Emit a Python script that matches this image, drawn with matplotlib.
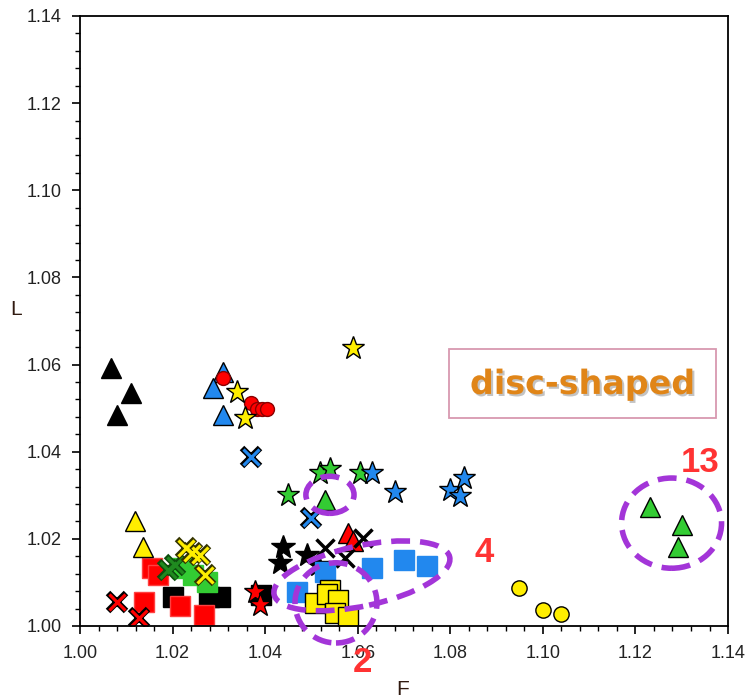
import numpy as np
import matplotlib
matplotlib.use("Agg")
import matplotlib.pyplot as plt
from matplotlib.patches import Ellipse, Rectangle
import matplotlib.patheffects as pe
from matplotlib.ticker import MultipleLocator, FormatStrFormatter

plt.rcParams['font.family'] = ['Liberation Sans', 'DejaVu Sans']

# ---- data ----
black_tri_x = [1.0068, 1.0110, 1.0079]
black_tri_y = [1.0592, 1.0534, 1.0484]
blue_tri_x = [1.0308, 1.0288, 1.0310]
blue_tri_y = [1.0584, 1.0546, 1.0484]
red_circ_x = [1.0308, 1.0369, 1.0382, 1.0393, 1.0403]
red_circ_y = [1.0570, 1.0511, 1.0498, 1.0498, 1.0498]
yellow_star_x = [1.0339, 1.0356, 1.0590]
yellow_star_y = [1.0538, 1.0477, 1.0637]
blue_x_x = [1.0369, 1.0500]
blue_x_y = [1.0387, 1.0247]
green_star_x = [1.0450, 1.0518, 1.0540, 1.0605]
green_star_y = [1.0300, 1.0352, 1.0360, 1.0350]
blue_star_x = [1.0630, 1.0680, 1.0799, 1.0820, 1.0830]
blue_star_y = [1.0350, 1.0308, 1.0312, 1.0298, 1.0339]
green_tri_x = [1.0529, 1.1231, 1.1300, 1.1292]
green_tri_y = [1.0289, 1.0274, 1.0232, 1.0182]
red_tri_x = [1.0580, 1.0590]
red_tri_y = [1.0213, 1.0194]
black_x_x = [1.0529, 1.0572, 1.0612]
black_x_y = [1.0178, 1.0155, 1.0201]
black_star_x = [1.0439, 1.0432, 1.0490, 1.0515]
black_star_y = [1.0182, 1.0144, 1.0163, 1.0140]
blue_sq_x = [1.0468, 1.0529, 1.0630, 1.0700, 1.0749]
blue_sq_y = [1.0079, 1.0125, 1.0132, 1.0151, 1.0138]
yellow_sq_x = [1.0508, 1.0540, 1.0533, 1.0558, 1.0551, 1.0580]
yellow_sq_y = [1.0052, 1.0083, 1.0073, 1.0060, 1.0029, 1.0021]
red_star_x = [1.0378, 1.0389]
red_star_y = [1.0079, 1.0048]
yellow_circ_x = [1.0949, 1.1000, 1.1039]
yellow_circ_y = [1.0088, 1.0037, 1.0028]
yellow_tri_x = [1.0119, 1.0137]
yellow_tri_y = [1.0242, 1.0181]
red_sq_x = [1.0155, 1.0169, 1.0138, 1.0216, 1.0268]
red_sq_y = [1.0132, 1.0117, 1.0056, 1.0046, 1.0025]
green_x_x = [1.0191, 1.0205]
green_x_y = [1.0129, 1.0140]
green_sq_x = [1.0220, 1.0245, 1.0274]
green_sq_y = [1.0133, 1.0117, 1.0102]
yellow_x_x = [1.0230, 1.0241, 1.0259, 1.0270]
yellow_x_y = [1.0178, 1.0167, 1.0163, 1.0117]
black_sq_x = [1.0200, 1.0279, 1.0302, 1.0392]
black_sq_y = [1.0067, 1.0067, 1.0067, 1.0071]
red_x_x = [1.0079, 1.0128]
red_x_y = [1.0056, 1.0018]

# circled groups: (x, y, width, height, angle)
groups = [
    (1.1278, 1.0236, 0.0216, 0.0207, 0),
    (1.0609, 1.0115, 0.0389, 0.0138, 13),
    (1.0553, 1.0053, 0.0177, 0.0184, 0),
    (1.0540, 1.0301, 0.0104, 0.0085, 0),
]
group_labels = ['13', '4', '2']
group_label_x = [1.1339, 1.0873, 1.0611]
group_label_y = [1.0376, 1.0168, 0.9917]

YEL = '#ffee00'
RED = '#ff0000'
BLU = '#2288ee'
GRN = '#33cc33'
DGR = '#1f8a1f'

fig = plt.figure(figsize=(7.47, 6.98), dpi=100)
ax = fig.add_axes([0.1071, 0.1032, 0.8675, 0.8739])


def pts(x, y, marker, face, ms, edge='black', mew=1.0):
    ax.plot(x, y, ls='none', marker=marker, ms=ms, mfc=face, mec=edge, mew=mew)


def cross(x, y, face, edge='black', ms=13):
    ax.plot(x, y, ls='none', marker='x', ms=ms, mew=4.6, color=edge)
    ax.plot(x, y, ls='none', marker='x', ms=ms - 1.5, mew=2.3, color=face)


pts(blue_tri_x, blue_tri_y, '^', BLU, 14)
pts(black_tri_x, black_tri_y, '^', 'black', 14)
pts(red_circ_x, red_circ_y, 'o', RED, 10, edge='#8a0000')
pts(yellow_star_x, yellow_star_y, '*', YEL, 17)
pts(black_sq_x, black_sq_y, 's', 'black', 14)
pts(red_sq_x, red_sq_y, 's', RED, 14, edge='#ff4040')
pts(green_sq_x, green_sq_y, 's', GRN, 14, edge=GRN)
cross(green_x_x, green_x_y, DGR, edge='#0d4d0d')
cross(yellow_x_x, yellow_x_y, YEL, edge='#333300')
cross(red_x_x, red_x_y, RED)
pts(yellow_tri_x, yellow_tri_y, '^', YEL, 14)
cross(blue_x_x, blue_x_y, BLU)
pts(green_star_x, green_star_y, '*', GRN, 17)
pts(blue_star_x, blue_star_y, '*', BLU, 17)
pts(green_tri_x, green_tri_y, '^', GRN, 14)
pts(red_tri_x, red_tri_y, '^', RED, 14)
pts(black_star_x, black_star_y, '*', 'black', 18)
ax.plot(black_x_x, black_x_y, ls='none', marker='x', ms=13, mew=2.5, color='black')
pts(blue_sq_x, blue_sq_y, 's', BLU, 14, edge=BLU)
pts(yellow_sq_x, yellow_sq_y, 's', YEL, 14)
pts(red_star_x, red_star_y, '*', RED, 17)
pts(yellow_circ_x, yellow_circ_y, 'o', YEL, 11)

for gx, gy, gw, gh, ga in groups:
    ax.add_patch(Ellipse((gx, gy), gw, gh, angle=ga, fill=False, ec='#a335d8',
                         lw=4, ls=(0, (3.4, 1.8)), clip_on=False, zorder=5))

for t, tx, ty in zip(group_labels, group_label_x, group_label_y):
    ax.text(tx, ty, t, color='#ff3333', fontsize=25, fontweight='bold',
            ha='center', va='center', clip_on=False, zorder=6)

ax.add_patch(Rectangle((0.5694, 0.341), 0.4121, 0.1131, transform=ax.transAxes,
                       fc='white', ec='#d898b0', lw=1.3, zorder=6))
ax.text(0.7755, 0.396, 'disc-shaped', transform=ax.transAxes, ha='center', va='center',
        fontsize=24, fontweight='bold', color='#e08518', family='DejaVu Sans', zorder=7,
        path_effects=[pe.withSimplePatchShadow(offset=(1.5, -1.5), shadow_rgbFace='#888888', alpha=0.5)])

ax.set_xlim(1.00, 1.14)
ax.set_ylim(1.00, 1.14)
ax.xaxis.set_major_locator(MultipleLocator(0.02))
ax.yaxis.set_major_locator(MultipleLocator(0.02))
ax.xaxis.set_minor_locator(MultipleLocator(0.004))
ax.yaxis.set_minor_locator(MultipleLocator(0.004))
ax.xaxis.set_major_formatter(FormatStrFormatter('%.2f'))
ax.yaxis.set_major_formatter(FormatStrFormatter('%.2f'))
ax.tick_params(which='major', direction='out', length=6, width=1.2, labelsize=13,
               labelcolor='#222222', pad=8)
ax.tick_params(which='minor', direction='out', length=3.5, width=1.0)
ax.tick_params(axis='y', pad=7)
for s in ax.spines.values():
    s.set_linewidth(1.3)

ax.set_xlabel('F', fontsize=15, color='#301a10')
ax.set_ylabel('L', fontsize=15, color='#301a10', rotation=0, ha='center', va='center')
ax.xaxis.set_label_coords(0.498, -0.088)
ax.yaxis.set_label_coords(-0.0988, 0.519)

fig.savefig('out.png', dpi=100)
